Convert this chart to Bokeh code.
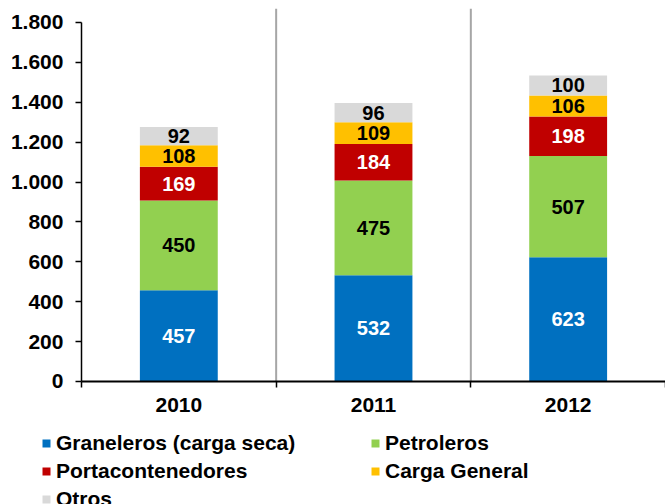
import numpy as np
from bokeh.plotting import figure
from bokeh.models import (ColumnDataSource, Range1d, FixedTicker,
                          Legend, LegendItem, LabelSet)
from bokeh.core.properties import value
from bokeh.embed import file_html
from bokeh.resources import INLINE

years = ["2010", "2011", "2012"]
graneleros = [457, 532, 623]
petroleros = [450, 475, 507]
portacontenedores = [169, 184, 198]
carga_general = [108, 109, 106]
otros = [92, 96, 100]

series_keys = ["graneleros", "petroleros", "portacontenedores", "carga_general", "otros"]
series_names = ["Graneleros (carga seca)", "Petroleros", "Portacontenedores", "Carga General", "Otros"]
series_values = [graneleros, petroleros, portacontenedores, carga_general, otros]
colors = ["#0070C0", "#92D050", "#C00000", "#FFC000", "#D9D9D9"]
label_colors = ["white", "black", "white", "black", "black"]

y_ticks = [0, 200, 400, 600, 800, 1000, 1200, 1400, 1600, 1800]
y_tick_labels = ["0", "200", "400", "600", "800", "1.000", "1.200", "1.400", "1.600", "1.800"]

FONT = "Liberation Sans"
FS = "21px"
FS_BAR = "20px"

# plotting area spans the whole canvas; axes are pinned at x=0 / y=0
Y_TOP = 1870
Y_BOTTOM = -617
X_LEFT = -0.416

# category slots: each year occupies one unit band on the x scale
centers = [i + 0.5 for i in range(len(years))]
boundaries = [i for i in range(len(years) + 1)]

data = {"year": years, "xc": centers}
bottom = np.zeros(len(years))
for k, vals in zip(series_keys, series_values):
    v = np.array(vals, dtype=float)
    data[k] = vals
    data[k + "_mid"] = list(bottom + v / 2)
    data[k + "_txt"] = [str(x) for x in vals]
    bottom = bottom + v
src = ColumnDataSource(data)

sep_src = ColumnDataSource({"b": boundaries[1:-1],
                            "y0": [0] * (len(boundaries) - 2),
                            "y1": [Y_TOP] * (len(boundaries) - 2)})

p = figure(x_range=Range1d(X_LEFT, len(years)), y_range=Range1d(Y_BOTTOM, Y_TOP),
           width=665, height=504, output_backend="svg", toolbar_location=None,
           min_border_left=0, min_border_right=0,
           min_border_top=8, min_border_bottom=0)
p.outline_line_color = None
p.xgrid.visible = False
p.ygrid.visible = False
p.background_fill_color = "white"

p.segment(x0="b", y0="y0", x1="b", y1="y1", source=sep_src,
          line_color="#A6A6A6", line_width=2)

renderers = p.vbar_stack(series_keys, x="xc", width=0.4, color=colors, line_color=None, source=src)

for k, c in zip(series_keys, label_colors):
    p.add_layout(LabelSet(x="xc", y=k + "_mid", text=k + "_txt", source=src,
                          text_align="center", text_baseline="middle",
                          text_color=c, text_font=value(FONT), text_font_size=FS_BAR,
                          text_font_style="bold"))

# y axis at x=0
ya = p.yaxis[0]
ya.fixed_location = 0
ya.ticker = FixedTicker(ticks=y_ticks)
ya.major_label_overrides = dict(zip(y_ticks, y_tick_labels))
ya.bounds = (0, 1800)
ya.major_tick_in = 0
ya.major_tick_out = 6
ya.minor_tick_line_color = None
ya.axis_line_width = 1.5
ya.axis_line_color = "black"
ya.major_tick_line_width = 1.5
ya.major_tick_line_color = "black"
ya.major_label_standoff = 12
ya.major_label_text_font = FONT
ya.major_label_text_font_size = FS
ya.major_label_text_font_style = "bold"
ya.major_label_text_color = "black"

# x axis at y=0: labels at band centres, tick marks at band boundaries
xa = p.xaxis[0]
xa.fixed_location = 0
xa.ticker = FixedTicker(ticks=centers, minor_ticks=boundaries)
xa.major_label_overrides = dict(zip(centers, years))
xa.bounds = (0, len(years))
xa.major_tick_line_color = None
xa.major_tick_in = 0
xa.major_tick_out = 6
xa.minor_tick_in = 0
xa.minor_tick_out = 6
xa.minor_tick_line_width = 1.5
xa.minor_tick_line_color = "black"
xa.axis_line_width = 2
xa.axis_line_color = "black"
xa.major_label_standoff = 11
xa.major_label_text_font = FONT
xa.major_label_text_font_size = FS
xa.major_label_text_font_style = "bold"
xa.major_label_text_color = "black"

legend = Legend(items=[LegendItem(label=n, renderers=[r]) for n, r in zip(series_names, renderers)],
                orientation="horizontal", ncols=2, location=(41, -7),
                glyph_width=10, glyph_height=10, label_standoff=5,
                label_width=310, label_height=21, spacing=4, padding=0, margin=0,
                border_line_color=None, background_fill_alpha=0,
                label_text_font=FONT, label_text_font_size=FS,
                label_text_font_style="bold", label_text_color="black")
p.add_layout(legend, "center")

open("out.html", "w").write(file_html(p, INLINE))
